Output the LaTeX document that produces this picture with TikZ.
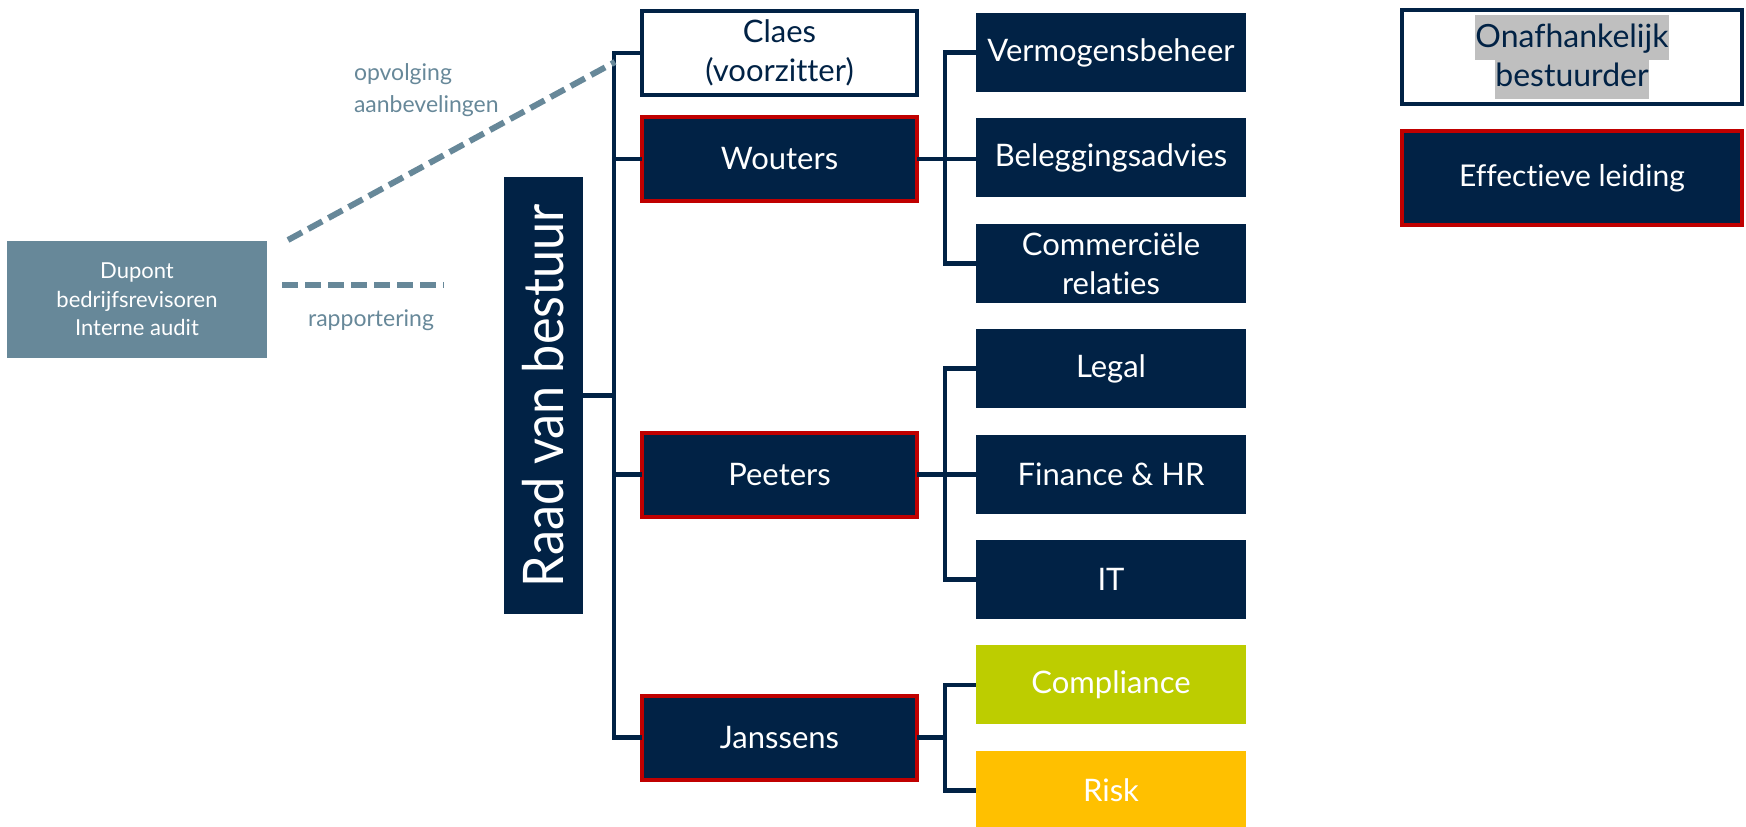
\documentclass[tikz,border=0pt]{standalone}
\usepackage{fontspec}
\usepackage{tikz}
\usetikzlibrary{positioning}
\setmainfont{Lato}[Ligatures=NoCommon]
\newfontfamily\raadfont{Lato}[Ligatures=NoCommon,FakeStretch=0.9]
\definecolor{navy}{HTML}{012245}
\definecolor{leadred}{HTML}{C00000}
\definecolor{auditgrey}{HTML}{678899}
\definecolor{compgreen}{HTML}{BDCD00}
\definecolor{riskyellow}{HTML}{FFC000}
\definecolor{hlgrey}{HTML}{BFBFBF}
\newcommand{\hl}[1]{{\setlength{\fboxsep}{0pt}\colorbox{hlgrey}{\rule[-13pt]{0pt}{45pt}#1}}}

\begin{document}
\begin{tikzpicture}[x=1pt,y=-1pt,every node/.style={align=center,inner sep=0pt,outer sep=0pt},
member/.style={draw=navy,line width=4pt,minimum width=275pt,minimum height=84pt,font=\fontsize{31}{39}\selectfont},
board/.style={member,fill=white,text=navy},
lead/.style={member,draw=leadred,fill=navy,text=white},
dept/.style={fill=navy,text=white,minimum width=270pt,minimum height=79pt,font=\fontsize{31}{39}\selectfont},
link/.style={draw=navy,line width=4.5pt},
audit/.style={draw=auditgrey,line width=6pt,dash pattern=on 16pt off 7pt},
note/.style={text=auditgrey,font=\fontsize{23}{32}\selectfont}]
\useasboundingbox (0,0) rectangle (1746,827);
% raad van bestuur
\node[board] (claes) at (779.5,53) {Claes\\(voorzitter)};
\node[lead,below=22pt of claes] (wouters) {Wouters};
\node[lead] (peeters) at (779.5,474.5) {Peeters};
\node[lead] (janssens) at (779.5,737.5) {Janssens};
\node[fill=navy,text=white,rotate=90,minimum width=437pt,minimum height=79pt,font=\raadfont\fontsize{56}{56}\selectfont] (raad) at (543.5,395.5) {Raad van bestuur};
% afdelingen
\node[dept] (verm) at (1111,52.5) {Vermogensbeheer};
\node[dept,below=26.4pt of verm] (beleg) {Beleggingsadvies};
\node[dept,below=26.4pt of beleg] (comm) {Commerciële\\relaties};
\node[dept,below=26.4pt of comm] (legal) {Legal};
\node[dept,below=26.4pt of legal] (fin) {Finance \& HR};
\node[dept,below=26.4pt of fin] (it) {IT};
\node[dept,below=26.4pt of it,fill=compgreen] (comp) {Compliance};
\node[dept,below=26.4pt of comp,fill=riskyellow] (risk) {Risk};
% bus en takken
\draw[link] (claes.west) -- ++(-28pt,0) coordinate (bus) |- (janssens.west);
\draw[link] (wouters.west) -- (wouters.west -| bus);
\draw[link] (peeters.west) -- (peeters.west -| bus);
\draw[link] (raad.south) -- (raad.south -| bus);
\draw[link] (verm.west) -- ++(-31pt,0) coordinate (wb) |- (comm.west);
\draw[link] (wouters.east) -- (wouters.east -| wb) -- (wouters.east -| beleg.west);
\draw[link] (legal.west) -- ++(-31pt,0) coordinate (pb) |- (it.west);
\draw[link] (peeters.east) -- (peeters.east -| fin.west);
\draw[link] (comp.west) -- ++(-31pt,0) coordinate (jb) |- (risk.west);
\draw[link] (janssens.east) -- (janssens.east -| jb);
% audit
\node[fill=auditgrey,text=white,minimum width=260pt,minimum height=117pt,font=\fontsize{22}{28.5}\selectfont] (dupont) at (137,299.5) {Dupont\\bedrijfsrevisoren\\Interne audit};
\coordinate (opv1) at (288,240);
\coordinate (opv2) at (615,62);
\coordinate (rap1) at (282,285);
\coordinate (rap2) at (444,285);
\draw[audit] (opv1) -- (opv2);
\draw[audit] (rap1) -- (rap2);
\node[note,align=left,anchor=west] (opvl) at (354,90) {opvolging\\aanbevelingen};
\node[note] (rapl) at (371,320) {rapportering};
% legende
\node[board,minimum width=340pt,minimum height=94pt,font=\fontsize{32}{45}\selectfont] (onaf) at (1572,57) {\hl{Onafhankelijk}\\[-6pt]\hl{bestuurder}};
\node[lead,minimum width=340pt,minimum height=94pt,font=\fontsize{30}{36}\selectfont] (eff) at (1572,178) {Effectieve leiding};
\end{tikzpicture}
\end{document}
